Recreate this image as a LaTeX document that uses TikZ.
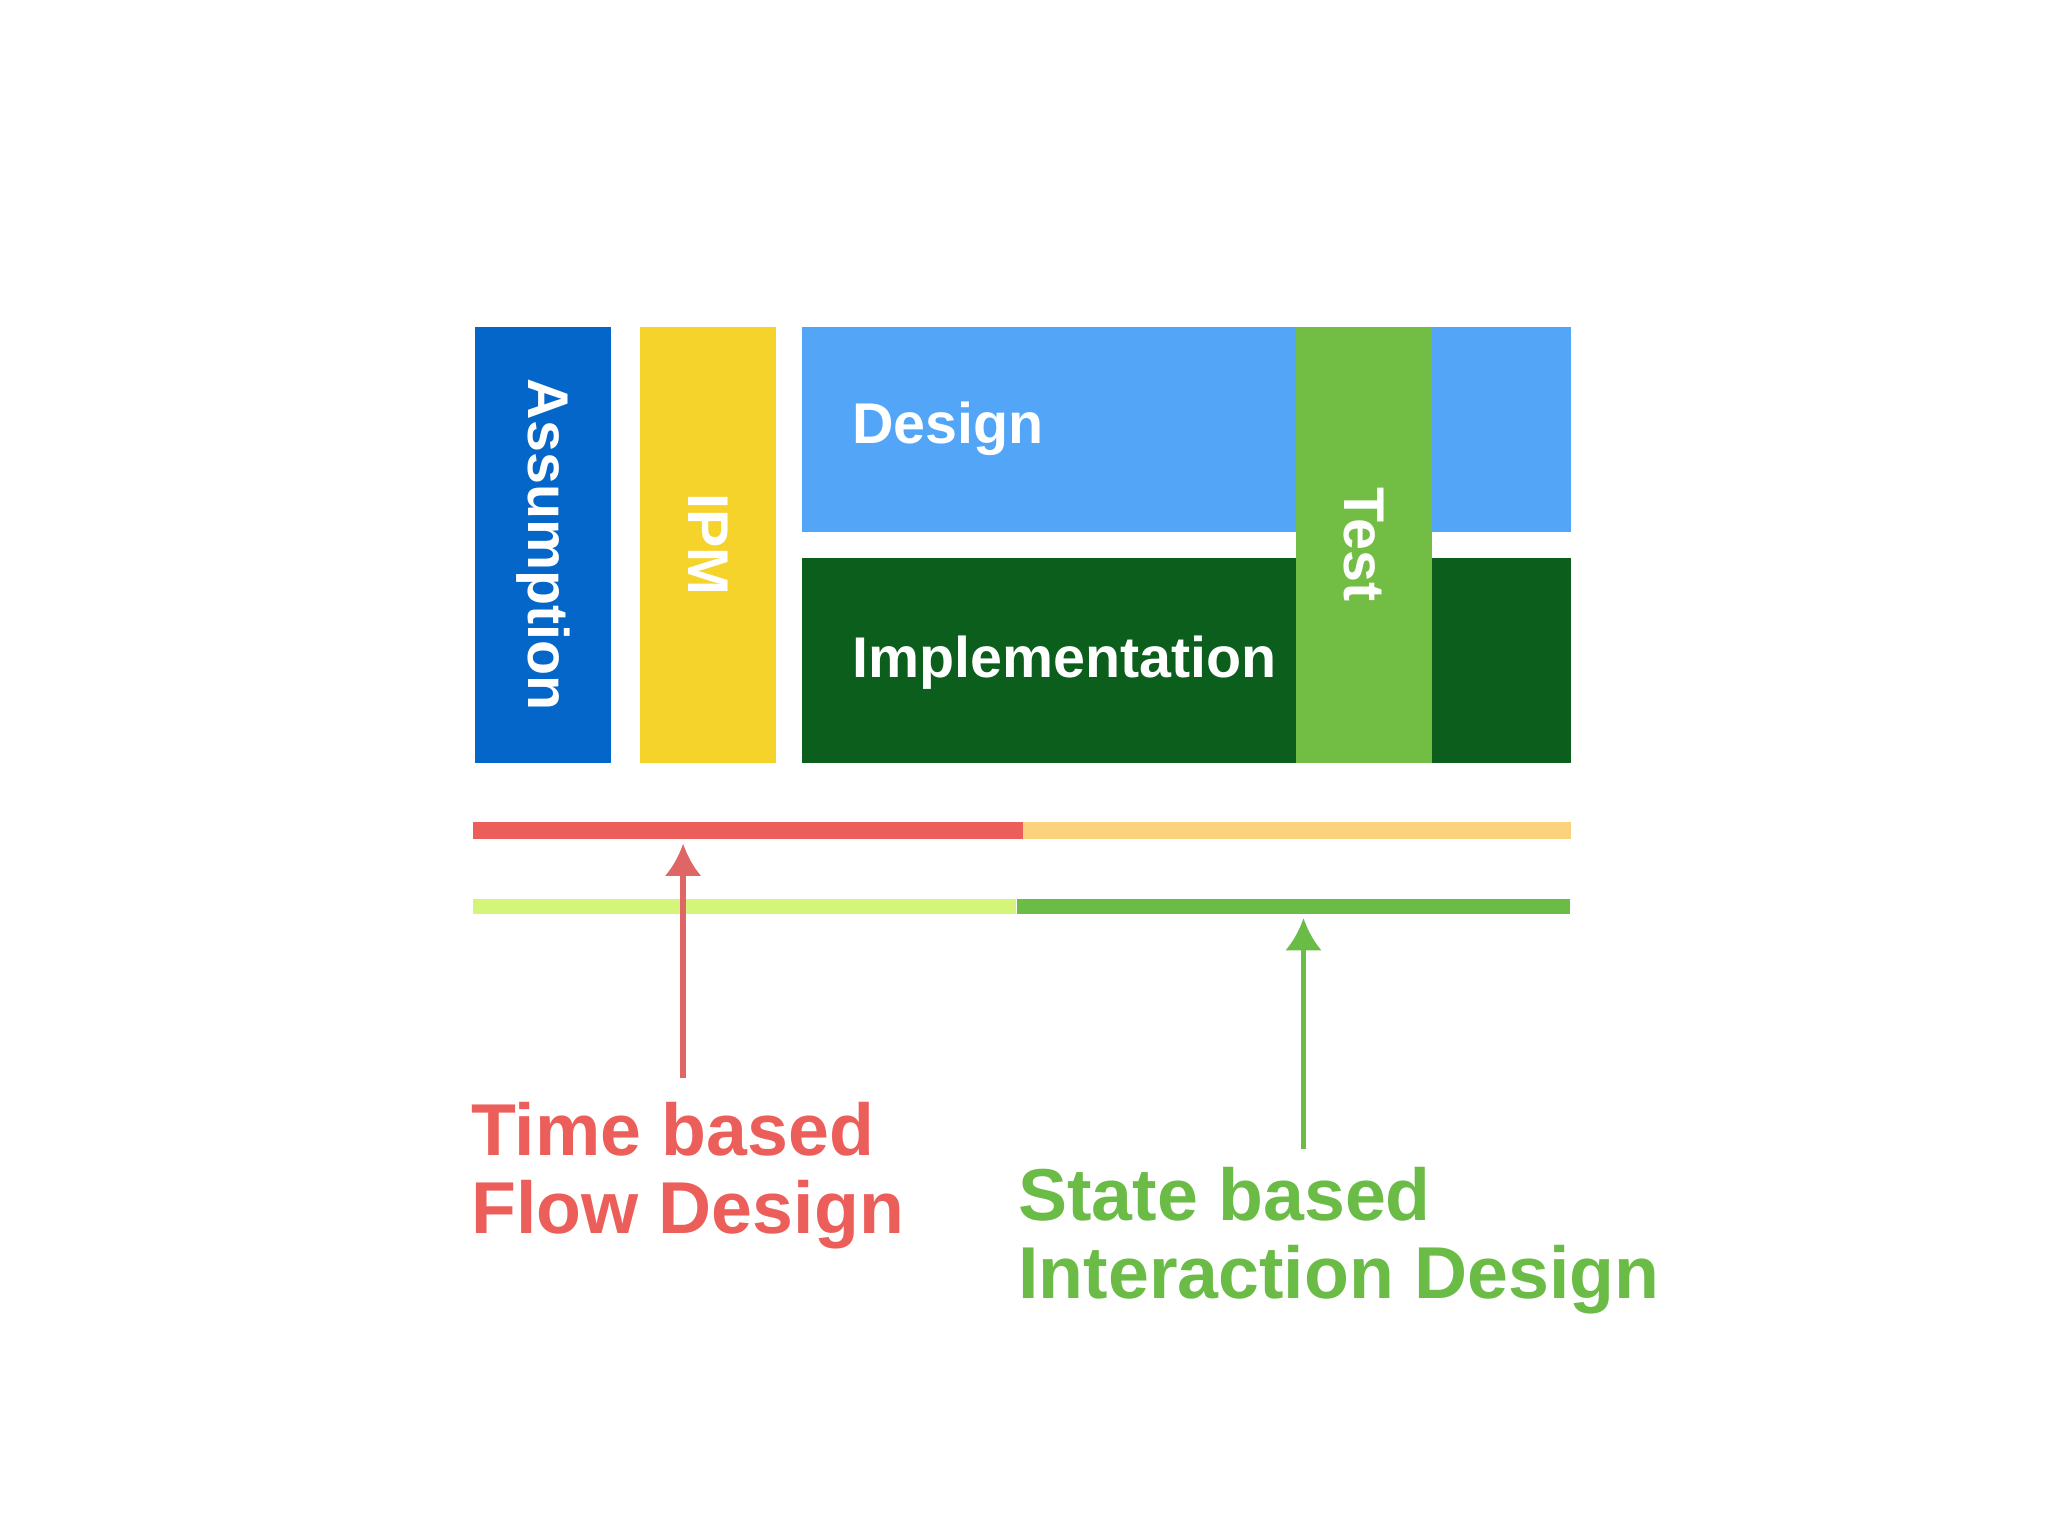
\documentclass[tikz,border=0pt]{standalone}
\usepackage{fontspec}
\setmainfont{Liberation Sans}
\definecolor{cAss}{HTML}{0466C8}
\definecolor{cIpm}{HTML}{F5D32B}
\definecolor{cDes}{HTML}{53A5F7}
\definecolor{cImp}{HTML}{0B5E1C}
\definecolor{cTest}{HTML}{72BE44}
\definecolor{cRed}{HTML}{EC5E5A}
\definecolor{cOr}{HTML}{FBD27E}
\definecolor{cLg}{HTML}{D4F57A}
\definecolor{cDg}{HTML}{6BBB47}
\definecolor{cArR}{HTML}{E06666}
\begin{document}
\begin{tikzpicture}[x=0.01cm,y=-0.01cm,
  lbl/.style={text=white,font=\bfseries\fontsize{12.5}{14}\selectfont},
  big/.style={font=\bfseries\fontsize{16}{18}\selectfont,align=left,anchor=north west,inner sep=0pt},
  arr/.style={line width=1.2pt,-{Latex[length=7pt,width=8pt]}}]
\usetikzlibrary{arrows.meta}
\useasboundingbox (0,0) rectangle (1568,1176);
\fill[white] (0,0) rectangle (1568,1176);
\fill[cAss] (364,250) rectangle (468,584);
\fill[cIpm] (490,250) rectangle (594,584);
\fill[cDes] (614,250) rectangle (1203,407);
\fill[cImp] (614,427) rectangle (1203,584);
\fill[cTest] (992,250) rectangle (1096,584);
\node[lbl,rotate=-90] (ass) at (416,417) {Assumption};
\node[lbl,rotate=-90] (ipm) at (542,417) {IPM};
\node[lbl,rotate=-90] (test) at (1044,417) {Test};
\node[lbl,anchor=west] (des) at (640,328) {Design};
\node[lbl,anchor=west] (imp) at (640,507) {Implementation};
\fill[cRed] (362,629) rectangle (783,642);
\fill[cOr] (783,629) rectangle (1203,642);
\fill[cLg] (362,688) rectangle (778,700);
\fill[cDg] (779,688) rectangle (1202,700);
\coordinate (rt) at (523,646);
\coordinate (gt) at (998,703);
\node[big,text=cRed] (time) at (360,843) {Time based\\[-1pt]Flow Design};
\node[big,text=cDg] (state) at (779,893) {State based\\[-1pt]Interaction Design};
\draw[arr,draw=cArR] (523,825) -- (rt);
\draw[arr,draw=cDg] (998,880) -- (gt);
\end{tikzpicture}
\end{document}
